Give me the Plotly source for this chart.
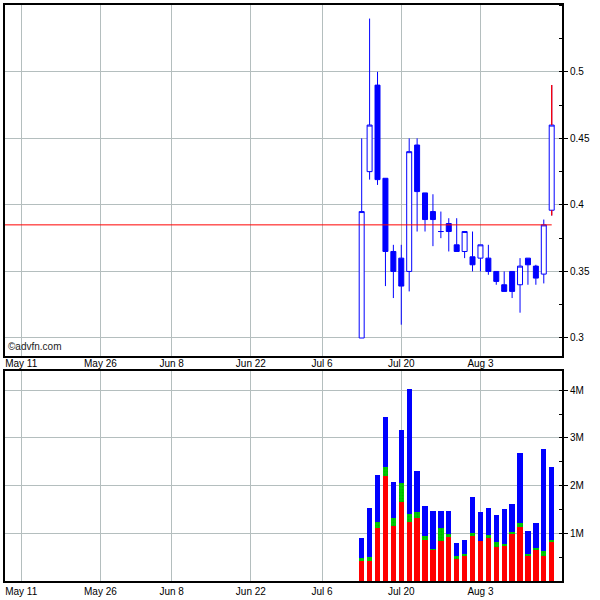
import numpy as np
import plotly.graph_objects as go

# ---------------- data ----------------
dates = ["2009-07-13", "2009-07-14", "2009-07-15", "2009-07-16", "2009-07-17",
         "2009-07-20", "2009-07-21", "2009-07-22", "2009-07-23", "2009-07-24",
         "2009-07-27", "2009-07-28", "2009-07-29", "2009-07-30", "2009-07-31",
         "2009-08-03", "2009-08-04", "2009-08-05", "2009-08-06", "2009-08-07",
         "2009-08-10", "2009-08-11", "2009-08-12", "2009-08-13", "2009-08-14"]
open_ = [0.300, 0.425, 0.490, 0.420, 0.365, 0.360, 0.350, 0.445, 0.409, 0.395,
         0.380, 0.386, 0.370, 0.365, 0.361, 0.360, 0.360, 0.350, 0.340, 0.350,
         0.340, 0.360, 0.354, 0.348, 0.396]
high = [0.450, 0.540, 0.500, 0.420, 0.370, 0.370, 0.450, 0.450, 0.409, 0.408,
        0.395, 0.390, 0.390, 0.380, 0.380, 0.370, 0.370, 0.350, 0.350, 0.350,
        0.360, 0.360, 0.355, 0.389, 0.490]
low = [0.300, 0.419, 0.415, 0.339, 0.330, 0.310, 0.335, 0.380, 0.380, 0.369,
       0.375, 0.365, 0.365, 0.360, 0.350, 0.350, 0.3475, 0.340, 0.335, 0.330,
       0.319, 0.340, 0.340, 0.341, 0.392]
close = [0.395, 0.460, 0.419, 0.365, 0.350, 0.339, 0.440, 0.410, 0.389, 0.389,
         0.380, 0.380, 0.365, 0.380, 0.355, 0.370, 0.350, 0.3425, 0.335, 0.335,
         0.354, 0.355, 0.345, 0.385, 0.460]
vol_red = [423000, 423000, 1109000, 2204000, 1164000, 1649000, 1247000, 1317000,
           852000, 651000, 832000, 915000, 457000, 541000, 942000, 832000,
           915000, 707000, 735000, 984000, 1123000, 541000, 665000, 527000, 832000]
vol_green = [55000, 76000, 138000, 187000, 153000, 416000, 167000, 138000,
             90000, 21000, 270000, 69000, 63000, 27000, 56000, 0,
             41000, 104000, 41000, 42000, 104000, 27000, 28000, 97000, 27000]
vol_blue = [416000, 1039000, 978000, 1039000, 762000, 1095000, 2619000, 853000,
            638000, 790000, 360000, 492000, 277000, 284000, 769000, 618000,
            582000, 582000, 742000, 596000, 1455000, 472000, 534000, 2141000, 1532000]
ref_price = 0.385

tick_dates = ["2009-05-11", "2009-05-26", "2009-06-08", "2009-06-22",
              "2009-07-06", "2009-07-20", "2009-08-03"]
tick_labels = ["May 11", "May 26", "Jun 8", "Jun 22", "Jul 6", "Jul 20", "Aug 3"]
price_ticks = [0.3, 0.35, 0.4, 0.45, 0.5]
price_labels = ["0.3", "0.35", "0.4", "0.45", "0.5"]
vol_ticks = [1e6, 2e6, 3e6, 4e6]
vol_labels = ["1M", "2M", "3M", "4M"]
holidays = ["2009-05-25", "2009-07-03"]
origin = "2009-05-11"

# ------------- trading-day axis -------------
def tday(d):
    return int(np.busday_count(origin, d, holidays=holidays))

x = [tday(d) for d in dates]
xt = [tday(d) for d in tick_dates]
x_range = [-2.05, 68.3]

BLUE = "#0000ff"
RED = "#ff0000"
GRID = "#b4bebe"
FONT = "Liberation Sans, Arial, sans-serif"

fig = go.Figure()

fig.add_trace(go.Candlestick(
    x=x, open=open_, high=high, low=low, close=close,
    xaxis="x", yaxis="y", whiskerwidth=0, showlegend=False,
    increasing=dict(line=dict(color=BLUE, width=1), fillcolor="#ffffff"),
    decreasing=dict(line=dict(color=BLUE, width=1), fillcolor=BLUE),
    text=dates, hoverinfo="text+y",
))

# red wick on the latest candle
lx = x[-1]
top = max(open_[-1], close[-1])
bot = min(open_[-1], close[-1])
fig.add_trace(go.Scatter(
    x=[lx, lx, None, lx, lx], y=[high[-1], top, None, bot, low[-1]],
    mode="lines", line=dict(color=RED, width=1.3), xaxis="x", yaxis="y",
    showlegend=False, hoverinfo="skip",
))

for vals, col, pat in [(vol_red, RED, None),
                       (vol_green, "#00d000", dict(shape=".", fgcolor="#008800", size=3, solidity=0.3)),
                       (vol_blue, BLUE, None)]:
    mk = dict(color=col, line=dict(width=0))
    if pat:
        mk["pattern"] = pat
    fig.add_trace(go.Bar(x=x, y=vals, width=0.67, marker=mk,
                         xaxis="x2", yaxis="y2", showlegend=False,
                         text=dates, hoverinfo="text+y", textposition="none"))

fig.add_shape(type="line", xref="x", yref="y", x0=x_range[0], x1=x[-1],
              y0=ref_price, y1=ref_price, line=dict(color=RED, width=1))

xcommon = dict(range=x_range, tickmode="array", tickvals=xt, ticktext=tick_labels,
               showgrid=True, gridcolor=GRID, gridwidth=1, zeroline=False,
               showline=True, linecolor="black", linewidth=2, mirror=True,
               ticks="", tickfont=dict(size=10, color="black", family=FONT),
               fixedrange=True)

ycommon = dict(side="right", showgrid=True, gridcolor=GRID, gridwidth=1, zeroline=False,
               showline=True, linecolor="black", linewidth=2, mirror=True,
               ticks="outside", ticklen=4, tickcolor="black", tickwidth=1,
               tickfont=dict(size=10, color="black", family=FONT), fixedrange=True)

fig.update_layout(
    width=600, height=600,
    margin=dict(l=3, r=38, t=3, b=17),
    paper_bgcolor="white", plot_bgcolor="white",
    font=dict(family=FONT, size=10, color="black"),
    barmode="stack", bargap=0.33, boxgap=0.1,
    showlegend=False,
    xaxis=dict(**xcommon, domain=[0, 1], anchor="y", ticklabelstandoff=-3,
               rangeslider=dict(visible=False)),
    xaxis2=dict(**xcommon, domain=[0, 1], anchor="y2", matches="x"),
    yaxis=dict(**ycommon, domain=[0.3914, 1], range=[0.2868, 0.5502],
               tickmode="array", tickvals=price_ticks, ticktext=price_labels,
               minor=dict(tickmode="linear", tick0=0, dtick=0.025, ticks="inside",
                          ticklen=3, tickcolor="black", showgrid=False)),
    yaxis2=dict(**ycommon, domain=[0, 0.3643], range=[0, 4.402e6],
                tickmode="array", tickvals=vol_ticks, ticktext=vol_labels,
                minor=dict(tickmode="linear", tick0=0, dtick=5e5, ticks="inside",
                           ticklen=3, tickcolor="black", showgrid=False)),
    annotations=[dict(text="©advfn.com", xref="paper", yref="paper",
                      x=0.002, y=0.4069, xanchor="left", yanchor="middle",
                      showarrow=False, font=dict(size=10, color="#222222", family=FONT))],
)

fig.write_html("out.html", config={"displayModeBar": False},
               post_script="document.body.style.margin='0';document.body.style.overflow='hidden';")
